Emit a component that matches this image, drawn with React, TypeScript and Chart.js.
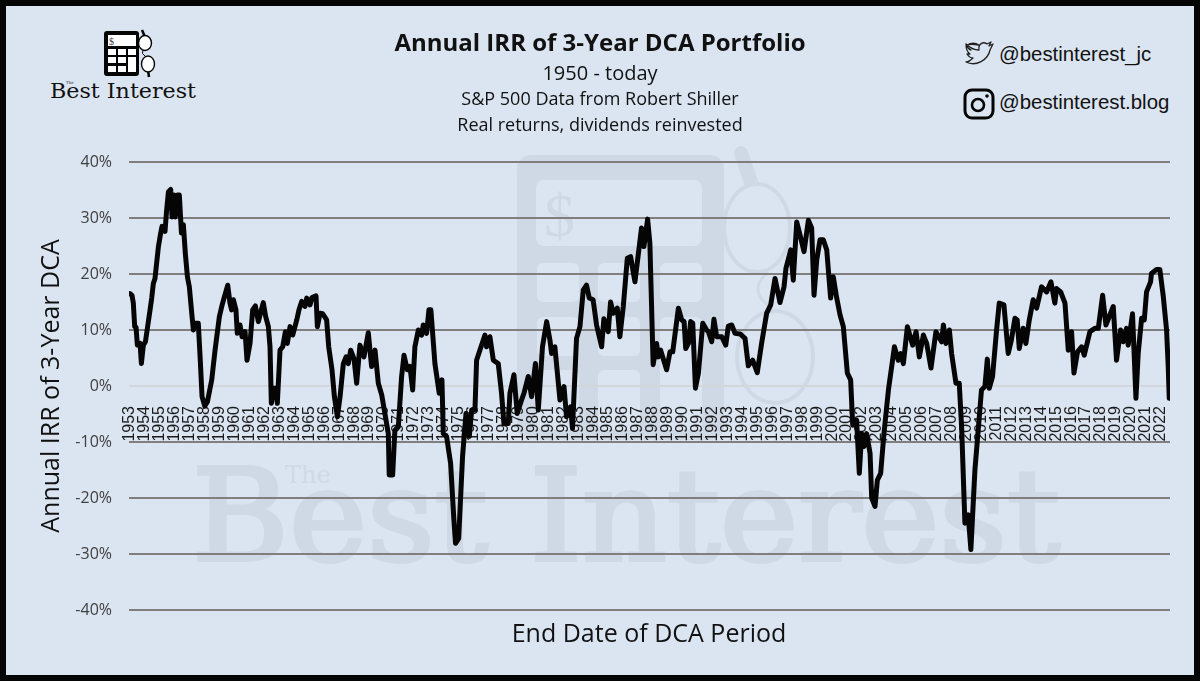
import { useEffect, useRef } from "react";
import { Chart, registerables } from "chart.js";

Chart.register(...registerables);

// end date of the DCA period, as decimal years
const endYears = [
  1953.0, 1953.13, 1953.22, 1953.31, 1953.4, 1953.49, 1953.67, 1953.76, 1953.89, 1954.03,
  1954.34, 1954.45, 1954.56, 1954.67, 1954.9, 1955.05, 1955.14, 1955.34, 1955.45, 1955.57,
  1955.72, 1955.81, 1955.95, 1956.03, 1956.17, 1956.3, 1956.44, 1956.57, 1956.7, 1956.84,
  1956.97, 1957.13, 1957.24, 1957.37, 1957.57, 1957.69, 1957.82, 1958.0, 1958.18, 1958.47,
  1958.69, 1958.98, 1959.14, 1959.29, 1959.54, 1959.69, 1959.8, 1959.92, 1960.09, 1960.18,
  1960.36, 1960.5, 1960.7, 1960.83, 1961.03, 1961.21, 1961.39, 1961.59, 1961.79, 1961.92,
  1962.08, 1962.26, 1962.37, 1962.46, 1962.6, 1962.75, 1962.86, 1963.04, 1963.22, 1963.4,
  1963.53, 1963.71, 1963.89, 1964.16, 1964.31, 1964.49, 1964.71, 1964.83, 1965.05, 1965.18,
  1965.45, 1965.54, 1965.72, 1965.9, 1966.16, 1966.3, 1966.52, 1966.68, 1966.88, 1967.06,
  1967.28, 1967.46, 1967.61, 1967.77, 1967.99, 1968.17, 1968.39, 1968.66, 1968.95, 1969.17,
  1969.4, 1969.62, 1969.85, 1970.06, 1970.29, 1970.35, 1970.58, 1970.73, 1970.96, 1971.18,
  1971.34, 1971.56, 1971.74, 1971.92, 1972.07, 1972.3, 1972.52, 1972.63, 1972.85, 1973.01,
  1973.14, 1973.41, 1973.7, 1973.88, 1973.97, 1974.19, 1974.46, 1974.68, 1974.79, 1975.0,
  1975.26, 1975.49, 1975.71, 1975.87, 1976.09, 1976.2, 1976.42, 1976.76, 1976.87, 1977.09,
  1977.32, 1977.65, 1977.87, 1978.03, 1978.32, 1978.43, 1978.7, 1978.92, 1979.21, 1979.37,
  1979.66, 1979.88, 1980.14, 1980.33, 1980.61, 1980.89, 1981.11, 1981.22, 1981.44, 1981.78,
  1982.05, 1982.22, 1982.49, 1982.62, 1982.89, 1983.12, 1983.34, 1983.56, 1983.74, 1984.0,
  1984.23, 1984.57, 1984.72, 1985.01, 1985.17, 1985.35, 1985.62, 1985.79, 1986.02, 1986.29,
  1986.51, 1986.8, 1987.24, 1987.4, 1987.65, 1987.8, 1988.02, 1988.25, 1988.36, 1988.52,
  1988.92, 1989.15, 1989.33, 1989.71, 1989.93, 1990.09, 1990.2, 1990.38, 1990.53, 1990.67,
  1990.85, 1991.05, 1991.34, 1991.6, 1991.72, 1991.94, 1992.09, 1992.27, 1992.61, 1992.88,
  1993.05, 1993.28, 1993.5, 1993.84, 1994.17, 1994.39, 1994.68, 1994.99, 1995.28, 1995.62,
  1995.89, 1996.18, 1996.51, 1996.78, 1996.91, 1997.23, 1997.4, 1997.63, 1997.85, 1998.12,
  1998.41, 1998.63, 1998.79, 1998.97, 1999.19, 1999.41, 1999.64, 1999.9, 2000.08, 2000.31,
  2000.53, 2000.75, 2001.02, 2001.24, 2001.38, 2001.64, 2001.82, 2001.98, 2002.13, 2002.31,
  2002.54, 2002.65, 2002.87, 2003.03, 2003.25, 2003.47, 2003.77, 2003.99, 2004.17, 2004.43,
  2004.59, 2004.77, 2005.04, 2005.39, 2005.62, 2005.84, 2006.11, 2006.33, 2006.62, 2006.95,
  2007.33, 2007.45, 2007.62, 2007.85, 2008.0, 2008.29, 2008.51, 2008.67, 2008.89, 2009.11,
  2009.29, 2009.56, 2009.78, 2010.0, 2010.23, 2010.39, 2010.52, 2010.74, 2011.01, 2011.19,
  2011.5, 2011.79, 2012.0, 2012.24, 2012.39, 2012.53, 2012.79, 2012.97, 2013.2, 2013.46,
  2013.69, 2014.02, 2014.36, 2014.65, 2014.91, 2015.03, 2015.3, 2015.59, 2015.81, 2016.03,
  2016.19, 2016.43, 2016.7, 2016.88, 2017.26, 2017.59, 2017.82, 2018.11, 2018.33, 2018.82,
  2019.04, 2019.31, 2019.49, 2019.71, 2019.82, 2020.11, 2020.34, 2020.49, 2020.72, 2020.9,
  2021.05, 2021.32, 2021.38, 2021.72, 2021.94, 2022.17, 2022.39, 2022.5, 2022.57,
];

// annual IRR in percent, one per end date
const irrValues = [
  16.5, 16.2, 14.8, 10.6, 10.5, 7.3, 7.6, 4.0, 7.3, 7.9,
  13.6, 15.7, 18.3, 19.2, 24.9, 27.3, 28.5, 27.6, 31.4, 34.7,
  35.1, 30.2, 34.1, 30.2, 34.1, 34.1, 27.3, 28.8, 23.7, 19.5,
  17.7, 13, 10, 11.2, 11.2, 5.2, -1.9, -3.6, -2.8, 1.1,
  6.4, 12.4, 14.2, 15.7, 18, 14.8, 13.6, 15.4, 13.6, 9.4,
  10.9, 8.8, 9.7, 4.6, 7.6, 13.6, 14.3, 11.5, 13.6, 14.9,
  12.4, 10.6, 7, -3.1, -0.4, -0.4, -3.1, 6.4, 7, 9.7,
  7.6, 10.6, 9.1, 11.8, 13.6, 15.1, 14.2, 15.7, 14.5, 15.8,
  16.1, 10.6, 13, 12.9, 11.8, 7, 2.9, -1.9, -5.5, -1.9,
  4, 5.2, 4, 6.4, 4.9, 0.5, 7.3, 5.2, 9.5, 3.5,
  6.4, 0.5, -1.6, -4.9, -8.5, -15.9, -15.9, -7.9, -7.3, 1.7,
  5.5, 2.9, 3.5, -0.7, 7, 10, 9.1, 10.9, 9.4, 13.6,
  13.6, 4, -1.3, 1.1, -8.5, -9, -13.8, -23.9, -28.1, -27.2,
  -12.6, -4.9, -9, -4.3, -4.3, 4.6, 6.4, 9.1, 7, 8.8,
  4.6, 4, -1.3, -6.7, -6.7, -1.3, 2, -4.9, -2.5, -1.3,
  1.7, -1.9, 4, -4.3, 7, 11.5, 8.2, 5.8, 7, -2.5,
  -0.1, -5.5, -3.7, -7.6, 8.5, 10.6, 17.1, 18, 15.7, 15.4,
  10.9, 7, 12, 9.7, 15, 13, 13.9, 8.8, 14.2, 22.8,
  23.1, 18.6, 28.2, 24.9, 29.8, 25.5, 3.8, 7.6, 5.2, 6.4,
  2.9, 6.1, 6.1, 13.9, 11.8, 11.5, 6.7, 7.6, 11.5, 11.2,
  -0.4, 2.3, 11.2, 10, 9.7, 7.9, 11.9, 8.8, 8.8, 7.3,
  10.7, 10.9, 9.4, 9.3, 8.5, 3.6, 4.6, 2.4, 7.6, 13,
  14.5, 19.2, 14.9, 17.7, 21, 24.3, 18.9, 29.3, 27, 24,
  29.6, 28.2, 16.2, 22.5, 26.1, 26.1, 24.3, 15.7, 19.5, 15.7,
  12.7, 10.6, 2.3, 1.1, -7, -6.1, -15.6, -8.5, -10.8, -8.5,
  -12, -20, -21.5, -16.8, -15.6, -8.5, -0.7, 3.5, 7, 4.6,
  5.8, 4, 10.6, 7.3, 9.7, 5.2, 9.1, 7.6, 3.2, 9.7,
  7.9, 10.9, 7.6, 10, 5.8, 0.5, 0.5, -7.3, -24.5, -23,
  -29.2, -15, -7.9, -0.7, -0.1, 4.8, -0.4, 1.7, 10, 14.8,
  14.5, 5.8, 8.2, 12.1, 11.8, 6.7, 10.3, 7.6, 11.8, 15.4,
  13.9, 17.7, 16.8, 18.6, 14.8, 17.4, 16.8, 14.8, 6.4, 9.7,
  2.3, 6.1, 7, 5.5, 9.7, 10.3, 10.3, 16.2, 10.9, 14.2,
  4.6, 10, 7.9, 10.3, 7.3, 12.9, -2.2, 5.8, 12.1, 11.8,
  16.8, 18.6, 20.1, 20.8, 20.8, 16, 10, 3.5, -2.2,
];

const BG = "#dbe5f1";
const WATERMARK = "#cfd9e6";
const UI_FONT = "'Open Sans', sans-serif";

function Watermark() {
  return (
    <svg width={1200} height={681} style={{ position: "absolute", left: 0, top: 0 }}>
      <rect x={517} y={155} width={207} height={285} rx={14} fill={WATERMARK} />
      <rect x={536} y={180} width={166} height={66} rx={8} fill={BG} />
      <text x={544} y={236} fontFamily="'Liberation Serif', serif" fontSize={62} fill={WATERMARK}>$</text>
      {[537, 598].map((x) =>
        [263, 317, 370].map((y) => <rect key={x + "-" + y} x={x} y={y} width={42} height={y === 370 ? 60 : 39} rx={6} fill={BG} />),
      )}
      <rect x={660} y={263} width={42} height={39} rx={6} fill={BG} />
      <rect x={660} y={317} width={42} height={113} rx={6} fill={BG} />
      <path d="M741 153 L752 185" stroke={WATERMARK} strokeWidth={14} strokeLinecap="round" />
      <ellipse cx={757} cy={228} rx={33} ry={44} fill={BG} stroke={WATERMARK} strokeWidth={4} />
      <ellipse cx={775} cy={357} rx={38} ry={46} fill="none" stroke={WATERMARK} strokeWidth={4} />
      <path d="M768 272 Q748 290 768 305" fill="none" stroke={WATERMARK} strokeWidth={3} />
      <text x={192} y={560} textLength={868} lengthAdjust="spacingAndGlyphs" fontFamily="'DejaVu Serif', serif" fontSize={127} fill={WATERMARK} stroke={WATERMARK} strokeWidth={4}>Best Interest</text>
      <text x={285} y={483} fontFamily="'DejaVu Serif', serif" fontSize={24} fill={WATERMARK}>The</text>
    </svg>
  );
}

function Logo() {
  const keys = [
    [108, 49], [118, 49], [128, 49],
    [108, 57], [118, 57],
    [108, 66], [118, 66],
  ];
  return (
    <svg width={1200} height={681} style={{ position: "absolute", left: 0, top: 0 }}>
      <rect x={104} y={31} width={35} height={45} rx={3} fill="#050505" />
      <rect x={108} y={35} width={28} height={11} fill="#fff" />
      <text x={109} y={45} fontFamily="'Liberation Serif', serif" fontSize={10} fill="#444">$</text>
      {keys.map(([x, y]) => <rect key={x + "-" + y} x={x} y={y} width={8} height={6} fill="#fff" />)}
      <rect x={128} y={57} width={8} height={15} fill="#fff" />
      <path d="M142 30 L145 37 M148 70 L149 77" stroke="#050505" strokeWidth={2.5} />
      <ellipse cx={145} cy={43} rx={6.5} ry={7.5} fill="#fff" stroke="#050505" strokeWidth={1.4} />
      <ellipse cx={148} cy={64} rx={6.5} ry={8} fill="#fff" stroke="#050505" strokeWidth={1.4} />
      <path d="M143 50 Q141 54 145 56" fill="none" stroke="#050505" strokeWidth={1} />
      <text x={50} y={98} textLength={146} lengthAdjust="spacingAndGlyphs" fontFamily="'DejaVu Serif', serif" fontSize={21} fill="#111">Best Interest</text>
      <text x={66} y={84} fontFamily="'DejaVu Serif', serif" fontSize={4} fill="#333">The</text>

      {/* twitter bird */}
      <path d="M967 45 C972 42 976 43 979 45 C973 44 969 44 967 45 Z M966 44 C968 49 970 50 971 50 L967 47 Z M966 62 C976 67 988 60 990 50 L993 44 L989 46 L991 42 L987 44 C983 41 978 44 979 50 C974 50 969 47 966 44 C966 48 967 52 970 54 L967 54 C969 57 971 58 973 58 C971 60 969 62 966 62 Z" fill="none" stroke="#222" strokeWidth={1.3} strokeLinejoin="round" />
      <text x={999} y={61} fontFamily="'Liberation Sans', sans-serif" fontSize={20.4} fill="#111">@bestinterest_jc</text>

      {/* instagram */}
      <rect x={965} y={90} width={28} height={28} rx={7} fill="none" stroke="#050505" strokeWidth={3} />
      <circle cx={978} cy={105} r={6} fill="none" stroke="#050505" strokeWidth={2.6} />
      <circle cx={987} cy={96} r={1.8} fill="#050505" />
      <text x={999} y={109} fontFamily="'Liberation Sans', sans-serif" fontSize={20.4} fill="#111">@bestinterest.blog</text>
    </svg>
  );
}

export default function App() {
  const canvasRef = useRef<HTMLCanvasElement | null>(null);

  useEffect(() => {
    if (!canvasRef.current) return;
    const chart = new Chart(canvasRef.current, {
      type: "line",
      data: {
        datasets: [
          {
            data: endYears.map((x, i) => ({ x, y: irrValues[i] })),
            borderColor: "#050505",
            borderWidth: 5,
            borderJoinStyle: "round",
            borderCapStyle: "round",
            pointRadius: 0,
            tension: 0,
          },
        ],
      },
      options: {
        animation: false,
        responsive: false,
        parsing: false,
        normalized: true,
        layout: { padding: { top: 162, bottom: 71, left: 0, right: 30 } },
        plugins: { legend: { display: false }, tooltip: { enabled: false } },
        scales: {
          x: {
            type: "linear",
            position: { y: 0 },
            min: 1952.93,
            max: 2022.62,
            grid: { display: false },
            border: { display: false },
            ticks: {
              stepSize: 1,
              includeBounds: false,
              autoSkip: false,
              maxRotation: 90,
              minRotation: 90,
              padding: 12,
              color: "#1a1a1a",
              font: { family: "'Liberation Sans', sans-serif", size: 16 },
              callback: (v) => (Number.isInteger(v) ? String(v) : ""),
            },
          },
          y: {
            min: -40,
            max: 40,
            afterFit: (scale) => {
              scale.width = 129;
            },
            border: { display: false },
            grid: {
              drawTicks: false,
              lineWidth: 2,
              color: (ctx) => (ctx.tick.value === 0 ? "#d3d6da" : "#7f7f7f"),
            },
            ticks: {
              stepSize: 10,
              padding: 17,
              color: "#404040",
              font: { family: UI_FONT, size: 16 },
              callback: (v) => v + "%",
            },
            title: {
              display: true,
              text: "Annual IRR of 3-Year DCA",
              color: "#111",
              font: { family: UI_FONT, size: 25 },
              padding: { top: 37, bottom: 0 },
            },
          },
        },
      },
    });
    return () => chart.destroy();
  }, []);

  const centered = (top: number, size: number, bold = false) => ({
    position: "absolute" as const,
    left: 0,
    width: 1200,
    top,
    textAlign: "center" as const,
    fontFamily: UI_FONT,
    fontSize: size,
    fontWeight: bold ? 700 : 400,
    lineHeight: "30px",
    color: "#111",
  });

  return (
    <div style={{ position: "fixed", left: 0, top: 0, width: 1200, height: 681, background: BG, overflow: "hidden" }}>
      <Watermark />
      <Logo />
      <canvas ref={canvasRef} width={1200} height={681} style={{ position: "absolute", left: 0, top: 0 }} />
      <div style={centered(27, 24, true)}>Annual IRR of 3-Year DCA Portfolio</div>
      <div style={centered(58, 20)}>1950 - today</div>
      <div style={centered(83, 18)}>S&amp;P 500 Data from Robert Shiller</div>
      <div style={centered(109, 18)}>Real returns, dividends reinvested</div>
      <div style={{ ...centered(617, 25), left: 49 }}>End Date of DCA Period</div>
      <div style={{ position: "absolute", left: 0, top: 0, width: 1200, height: 681, boxSizing: "border-box", border: "6px solid #050505", pointerEvents: "none" }} />
    </div>
  );
}
